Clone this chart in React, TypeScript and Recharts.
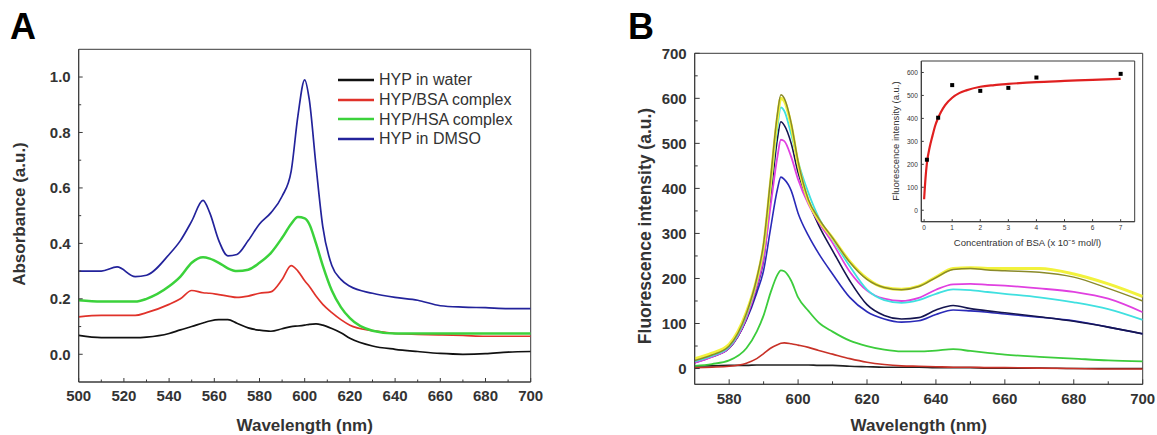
import React from 'react';
import { LineChart, ComposedChart, Line, Scatter, XAxis, YAxis, ReferenceArea, Legend, Label } from 'recharts';

const FONT = '"Liberation Sans", Arial, Helvetica, sans-serif';
const AXIS = '#3a3a3a';
const TXT = '#333333';

// ---------- Panel A: absorbance ----------
const wavelengthA = [500, 510, 517, 525, 530, 540, 545, 550, 555, 558, 562, 566, 570, 575, 580, 585, 590, 594, 597, 600, 602, 605, 608, 612, 616, 620, 630, 640, 650, 660, 670, 680, 690, 700];
const waterA = [0.068, 0.06, 0.06, 0.06, 0.062, 0.075, 0.088, 0.1, 0.113, 0.12, 0.125, 0.125, 0.112, 0.095, 0.087, 0.083, 0.092, 0.1, 0.102, 0.105, 0.108, 0.11, 0.105, 0.093, 0.078, 0.058, 0.03, 0.018, 0.01, 0.003, 0.0, 0.002, 0.008, 0.01];
const bsaA = [0.135, 0.14, 0.14, 0.14, 0.15, 0.18, 0.2, 0.23, 0.222, 0.22, 0.215, 0.21, 0.205, 0.21, 0.22, 0.225, 0.27, 0.32, 0.3, 0.265, 0.245, 0.21, 0.18, 0.15, 0.125, 0.105, 0.085, 0.075, 0.072, 0.07, 0.068, 0.065, 0.065, 0.065];
const hsaA = [0.195, 0.19, 0.19, 0.19, 0.2, 0.245, 0.28, 0.33, 0.35, 0.345, 0.33, 0.31, 0.3, 0.305, 0.33, 0.365, 0.42, 0.47, 0.495, 0.49, 0.47, 0.4, 0.32, 0.23, 0.17, 0.13, 0.085, 0.075, 0.075, 0.075, 0.075, 0.075, 0.075, 0.075];
const dmsoA = [0.3, 0.3, 0.315, 0.28, 0.285, 0.36, 0.41, 0.48, 0.555, 0.51, 0.41, 0.355, 0.36, 0.41, 0.47, 0.51, 0.57, 0.66, 0.86, 0.99, 0.92, 0.68, 0.46, 0.32, 0.27, 0.245, 0.22, 0.205, 0.195, 0.175, 0.17, 0.168, 0.165, 0.165];
const ticksXA = [500, 510, 520, 530, 540, 550, 560, 570, 580, 590, 600, 610, 620, 630, 640, 650, 660, 670, 680, 690, 700];
const ticksYA = [0, 0.1, 0.2, 0.3, 0.4, 0.5, 0.6, 0.7, 0.8, 0.9, 1.0];
const legendOrderA = ['HYP in water', 'HYP/BSA complex', 'HYP/HSA complex', 'HYP in DMSO'];

// ---------- Panel B: fluorescence ----------
const wavelengthB = [570, 575, 580, 585, 588, 590, 592, 594, 595, 596, 598, 600, 603, 606, 610, 615, 620, 625, 630, 635, 640, 645, 650, 655, 660, 670, 680, 690, 700];
const fB0 = [6, 6, 7, 7, 8, 8, 8, 8, 8, 8, 8, 8, 8, 7, 7, 5, 4, 3, 3, 3, 2, 2, 2, 1, 1, 1, 0, 0, 0];
const fB1 = [2, 3, 5, 12, 22, 33, 45, 53, 56, 57, 55, 52, 47, 40, 32, 22, 14, 9, 6, 5, 4, 3, 3, 2, 2, 1, 0, -1, -1];
const fB2 = [6, 10, 18, 45, 82, 118, 168, 208, 218, 216, 195, 158, 128, 102, 82, 62, 50, 42, 38, 38, 40, 43, 39, 35, 31, 26, 22, 18, 16];
const fB3 = [14, 27, 46, 108, 168, 218, 310, 398, 425, 420, 395, 345, 295, 255, 210, 158, 126, 110, 103, 106, 120, 130, 128, 125, 121, 114, 106, 92, 77];
const fB4 = [13, 26, 45, 110, 178, 242, 375, 510, 548, 540, 500, 435, 370, 318, 262, 195, 142, 118, 110, 113, 130, 140, 133, 128, 124, 115, 105, 92, 77];
const fB5 = [13, 26, 46, 112, 182, 245, 360, 470, 508, 505, 470, 420, 365, 325, 279, 215, 173, 155, 150, 157, 175, 187, 188, 186, 184, 178, 170, 155, 125];
const fB6 = [16, 28, 48, 118, 192, 265, 400, 535, 580, 572, 520, 460, 390, 335, 287, 227, 175, 152, 146, 152, 166, 176, 174, 170, 166, 158, 147, 132, 108];
const fB7 = [22, 34, 54, 125, 198, 272, 412, 556, 600, 594, 540, 455, 372, 330, 290, 238, 200, 180, 176, 183, 203, 222, 224, 222, 222, 222, 210, 188, 160];
const fB8 = [18, 30, 50, 122, 200, 278, 420, 565, 608, 600, 545, 460, 375, 333, 290, 236, 198, 180, 175, 182, 202, 220, 222, 219, 217, 214, 203, 178, 150];
const ticksXB = [580, 590, 600, 610, 620, 630, 640, 650, 660, 670, 680, 690, 700];
const ticksYB = [0, 50, 100, 150, 200, 250, 300, 350, 400, 450, 500, 550, 600, 650, 700];

// ---------- Inset: intensity vs BSA concentration ----------
const concPoints = [0.1, 0.5, 1, 2, 3, 4, 7];
const intensityPoints = [220, 403, 545, 520, 533, 578, 594];
const concFit = [0, 0.05, 0.1, 0.2, 0.3, 0.4, 0.5, 0.6, 0.75, 1, 1.25, 1.5, 2, 2.5, 3, 4, 5, 6, 7];
const intensityFit = [48, 140, 205, 275, 325, 370, 402, 428, 458, 490, 510, 522, 538, 545, 550, 558, 563, 568, 572];
const ticksXI = [0, 1, 2, 3, 4, 5, 6, 7];
const ticksYI = [0, 100, 200, 300, 400, 500, 600];

const rowsA = wavelengthA.map((w, i) => ({ w, water: waterA[i], bsa: bsaA[i], hsa: hsaA[i], dmso: dmsoA[i] }));
const rowsB = wavelengthB.map((w, i) => ({ w, b0: fB0[i], b1: fB1[i], b2: fB2[i], b3: fB3[i], b4: fB4[i], b5: fB5[i], b6: fB6[i], b7: fB7[i], b8: fB8[i] }));
const pointRows = concPoints.map((c, i) => ({ c, v: intensityPoints[i] }));
const fitRows = concFit.map((c, i) => ({ c, v: intensityFit[i] }));

type TickCfg = {
  orient: 'x' | 'y';
  margin: number;
  major: (v: number) => boolean;
  fmt: (v: number) => string;
  len: number;
  minorLen: number;
  fontSize: number;
  weight: string | number;
};

function makeTick(c: TickCfg) {
  return (p: any) => {
    const v = p.payload.value;
    const maj = c.major(v);
    if (c.orient === 'x') {
      const ay = p.y - c.margin;
      return (
        <g>
          <line x1={p.x} x2={p.x} y1={ay} y2={ay - (maj ? c.len : c.minorLen)} stroke={AXIS} strokeWidth={1} />
          {maj && (
            <text x={p.x} y={p.y} dy="0.72em" textAnchor="middle" fontSize={c.fontSize} fontWeight={c.weight} fontFamily={FONT} fill={TXT}>
              {c.fmt(v)}
            </text>
          )}
        </g>
      );
    }
    const ax = p.x + c.margin;
    return (
      <g>
        <line x1={ax} x2={ax + (maj ? c.len : c.minorLen)} y1={p.y} y2={p.y} stroke={AXIS} strokeWidth={1} />
        {maj && (
          <text x={p.x} y={p.y} dy="0.36em" textAnchor="end" fontSize={c.fontSize} fontWeight={c.weight} fontFamily={FONT} fill={TXT}>
            {c.fmt(v)}
          </text>
        )}
      </g>
    );
  };
}

const xTickA = makeTick({ orient: 'x', margin: 8, major: (v) => (v - 500) % 20 === 0, fmt: (v) => String(v), len: 4, minorLen: 2.5, fontSize: 15, weight: 'bold' });
const yTickA = makeTick({ orient: 'y', margin: 8, major: (v) => Math.round(v * 10) % 2 === 0, fmt: (v) => v.toFixed(1), len: 4, minorLen: 2.5, fontSize: 15, weight: 'bold' });
const xTickB = makeTick({ orient: 'x', margin: 8.5, major: (v) => v % 20 === 0, fmt: (v) => String(v), len: 5, minorLen: 3, fontSize: 15, weight: 'bold' });
const yTickB = makeTick({ orient: 'y', margin: 8, major: (v) => v % 100 === 0, fmt: (v) => String(v), len: 5, minorLen: 3, fontSize: 15, weight: 'bold' });
const xTickI = makeTick({ orient: 'x', margin: 4, major: () => true, fmt: (v) => String(v), len: 2.5, minorLen: 1.5, fontSize: 6.5, weight: 'normal' });
const yTickI = makeTick({ orient: 'y', margin: 3.5, major: () => true, fmt: (v) => String(v), len: 2.5, minorLen: 1.5, fontSize: 6.5, weight: 'normal' });

const titleText = (x: number, y: number, text: string, size: number, rotate: boolean, weight: string | number = 'bold') => () => (
  <text
    x={x}
    y={y}
    textAnchor="middle"
    dominantBaseline="central"
    fontSize={size}
    fontWeight={weight}
    fontFamily={FONT}
    fill={TXT}
    transform={rotate ? `rotate(-90, ${x}, ${y})` : undefined}
  >
    {text}
  </text>
);

const renderLegendA = (props: any) => {
  const items = [...(props.payload || [])].sort((a: any, b: any) => legendOrderA.indexOf(a.value) - legendOrderA.indexOf(b.value));
  return (
    <div style={{ fontFamily: FONT, fontSize: 16, color: TXT }}>
      {items.map((e: any) => (
        <div key={e.value} style={{ display: 'flex', alignItems: 'center', height: 19.8 }}>
          <svg width={36} height={4} style={{ display: 'block' }}>
            <line x1={0} x2={36} y1={2} y2={2} stroke={e.color} strokeWidth={2.4} />
          </svg>
          <span style={{ marginLeft: 5, lineHeight: '19.8px', whiteSpace: 'nowrap' }}>{e.value}</span>
        </div>
      ))}
    </div>
  );
};

const panelLetter = (left: number, letter: string) => (
  <div style={{ position: 'absolute', left, top: 9, fontFamily: FONT, fontWeight: 'bold', fontSize: 36, lineHeight: '36px', color: '#000' }}>{letter}</div>
);

export default function App() {
  return (
    <div style={{ position: 'absolute', left: 0, top: 0, width: 1157, height: 435, background: '#fff', overflow: 'hidden' }}>
      {panelLetter(10, 'A')}
      {panelLetter(628, 'B')}

      <div style={{ position: 'absolute', left: 0, top: 0 }}>
        <LineChart width={580} height={435} data={rowsA} margin={{ top: 49.3, left: 77.7, right: 49.3, bottom: 52 }}>
          <ReferenceArea x1={500} x2={700} y1={-0.1} y2={1.1} fill="none" stroke={AXIS} strokeWidth={1} ifOverflow="visible" />
          <XAxis type="number" dataKey="w" domain={[500, 700]} ticks={ticksXA} interval={0} tickSize={0} tickMargin={8} tick={xTickA} axisLine={{ stroke: AXIS }} height={1} allowDataOverflow>
            <Label content={titleText(304.7, 425, 'Wavelength (nm)', 17, false)} />
          </XAxis>
          <YAxis type="number" domain={[-0.1, 1.1]} ticks={ticksYA} interval={0} tickSize={0} tickMargin={8} tick={yTickA} axisLine={{ stroke: AXIS }} width={1} allowDataOverflow>
            <Label content={titleText(19, 214, 'Absorbance (a.u.)', 17, true)} />
          </YAxis>
          <Line type="monotone" dataKey="water" name="HYP in water" stroke="#111111" strokeWidth={1.7} dot={false} isAnimationActive={false} />
          <Line type="monotone" dataKey="bsa" name="HYP/BSA complex" stroke="#e0322a" strokeWidth={1.7} dot={false} isAnimationActive={false} />
          <Line type="monotone" dataKey="hsa" name="HYP/HSA complex" stroke="#3bd23b" strokeWidth={2.5} dot={false} isAnimationActive={false} />
          <Line type="monotone" dataKey="dmso" name="HYP in DMSO" stroke="#23239b" strokeWidth={1.7} dot={false} isAnimationActive={false} />
          <Legend layout="vertical" align="center" verticalAlign="middle" content={renderLegendA} wrapperStyle={{ left: 338, top: 70, width: 190, height: 80 }} />
        </LineChart>
      </div>

      <div style={{ position: 'absolute', left: 580, top: 0 }}>
        <LineChart width={577} height={435} data={rowsB} margin={{ top: 53.3, left: 113.7, right: 14.3, bottom: 49.7 }}>
          <ReferenceArea x1={570} x2={700} y1={-35} y2={700} fill="none" stroke={AXIS} strokeWidth={1} ifOverflow="visible" />
          <XAxis type="number" dataKey="w" domain={[570, 700]} ticks={ticksXB} interval={0} tickSize={0} tickMargin={8.5} tick={xTickB} axisLine={{ stroke: AXIS }} height={1} allowDataOverflow>
            <Label content={titleText(338.7, 425, 'Wavelength (nm)', 17, false)} />
          </XAxis>
          <YAxis type="number" domain={[-35, 700]} ticks={ticksYB} interval={0} tickSize={0} tickMargin={8} tick={yTickB} axisLine={{ stroke: AXIS }} width={1} allowDataOverflow>
            <Label content={titleText(65, 226, 'Fluorescence intensity (a.u.)', 17.5, true)} />
          </YAxis>
          <Line type="monotone" dataKey="b0" stroke="#222222" strokeWidth={1.6} dot={false} isAnimationActive={false} />
          <Line type="monotone" dataKey="b1" stroke="#c83228" strokeWidth={1.6} dot={false} isAnimationActive={false} />
          <Line type="monotone" dataKey="b2" stroke="#3ccc3c" strokeWidth={1.8} dot={false} isAnimationActive={false} />
          <Line type="monotone" dataKey="b3" stroke="#2a2ab8" strokeWidth={1.6} dot={false} isAnimationActive={false} />
          <Line type="monotone" dataKey="b4" stroke="#151550" strokeWidth={1.6} dot={false} isAnimationActive={false} />
          <Line type="monotone" dataKey="b5" stroke="#e040e0" strokeWidth={1.8} dot={false} isAnimationActive={false} />
          <Line type="monotone" dataKey="b6" stroke="#40e0e0" strokeWidth={1.8} dot={false} isAnimationActive={false} />
          <Line type="monotone" dataKey="b7" stroke="#f2f23c" strokeWidth={3} dot={false} isAnimationActive={false} />
          <Line type="monotone" dataKey="b8" stroke="#8a8a2a" strokeWidth={1.5} dot={false} isAnimationActive={false} />
        </LineChart>
      </div>

      <div style={{ position: 'absolute', left: 860, top: 50 }}>
        <ComposedChart width={290} height={205} margin={{ top: 11, left: 60.3, right: 15.3, bottom: 32.3 }}>
          <ReferenceArea x1={-0.1} x2={7.5} y1={-50} y2={650} fill="none" stroke={AXIS} strokeWidth={1} ifOverflow="visible" />
          <XAxis type="number" dataKey="c" domain={[-0.1, 7.5]} ticks={ticksXI} interval={0} tickSize={0} tickMargin={4} tick={xTickI} axisLine={{ stroke: AXIS }} height={1} allowDataOverflow>
            <Label content={titleText(167.5, 192.3, 'Concentration of BSA (x 10⁻⁵ mol/l)', 9.5, false, 'normal')} />
          </XAxis>
          <YAxis type="number" domain={[-50, 650]} ticks={ticksYI} interval={0} tickSize={0} tickMargin={3.5} tick={yTickI} axisLine={{ stroke: AXIS }} width={1} allowDataOverflow>
            <Label content={titleText(35, 91, 'Fluorescence intensity (a.u.)', 9.5, true, 'normal')} />
          </YAxis>
          <Line data={fitRows} type="monotone" dataKey="v" stroke="#e02020" strokeWidth={2.2} dot={false} isAnimationActive={false} />
          <Scatter
            data={pointRows}
            dataKey="v"
            fill="#000"
            isAnimationActive={false}
            shape={(p: any) => <rect x={p.cx - 2} y={p.cy - 2} width={4} height={4} fill="#000" />}
          />
        </ComposedChart>
      </div>
    </div>
  );
}
